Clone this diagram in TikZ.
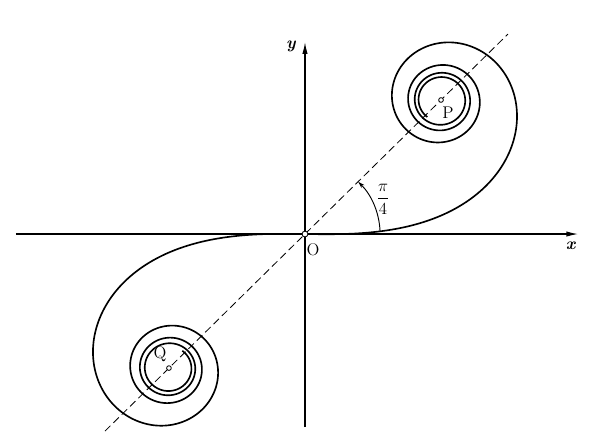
\documentclass[tikz,border=0pt]{standalone}
\usepackage{amsmath}
\usepackage{xcolor}
\usepackage{tikz}
\usetikzlibrary{arrows.meta}

\begin{document}
\begin{tikzpicture}[x = 8.16cm, y = 8.04cm,
    declare function = {
        aux_f(\t) = (1 + 0.926*\t)/(2 + 1.792*\t + 3.104*\t^2);
        aux_g(\t) = 1/(2 + 4.142*\t + 3.492*\t^2 + 6.670*\t^3);
        fres_c(\t) = 0.5 + aux_f(\t)*sin(90*\t^2) - aux_g(\t)*cos(90*\t^2);
        fres_s(\t) = 0.5 - aux_f(\t)*cos(90*\t^2) - aux_g(\t)*sin(90*\t^2);
    },
    dot/.style = {circle, draw, fill=white, inner sep=0pt, minimum size=#1, line width=0.7pt},
    curve/.style = {line width=1.4pt, line join=round}
]
\useasboundingbox (-1.121, -0.780) rectangle (1.110, 0.873);

    % axes and the ray at pi/4
    \coordinate (X_L) at (-1.0625, 0);
    \coordinate (X_R) at (1.004, 0);
    \coordinate (Y_B) at (0, -0.72);
    \coordinate (Y_T) at (0, 0.716);
    \coordinate (R_L) at (-0.735, -0.735);
    \coordinate (R_R) at (0.746, 0.746);
    \coordinate (A_0) at (2.3:0.276);

\begin{scope}[
    every edge/.style={draw, line width=1pt}
]
    \path [-{Latex[length=10pt, width=4.5pt]}] (X_L) edge (X_R);
    \path [-{Latex[length=10pt, width=4.5pt]}] (Y_B) edge (Y_T);
    % Ray
    \path [dash pattern=on 6.5pt off 3.5pt] (R_L) edge[line width=0.7pt] (R_R);
\end{scope}

    % spiral
    \draw [curve] plot [domain=-3.95:3.95, samples=1400, variable=\t]
        ({sign(\t)*fres_c(abs(\t))}, {sign(\t)*fres_s(abs(\t))});
    % Angle
    \draw [line width=0.8pt, -{Stealth[length=6pt, width=3.5pt]}] (A_0) arc [start angle=2.3, end angle=45, radius=0.276];

\begin{scope}[every node/.style={font=\Large}]
    \node [dot=5pt] (O) at (0, 0) {};
    \node [dot=4pt] (P) at (0.5, 0.5) {};
    \node [dot=4pt] (Q) at (-0.5, -0.5) {};
    % labels
    \node (O_lab) at (0.03, -0.058) {O};
    \node (P_lab) at (0.526, 0.451) {P};
    \node (Q_lab) at (-0.533, -0.448) {Q};
    \node (angle) at (0.287, 0.131) {$\dfrac{\pi}{4}$};
    \node (x_lab) at (0.978, -0.045) {\textbf{\textit{x}}};
    \node (y_lab) at (-0.051, 0.70) {\textbf{\textit{y}}};
\end{scope}
\end{tikzpicture}
\end{document}
